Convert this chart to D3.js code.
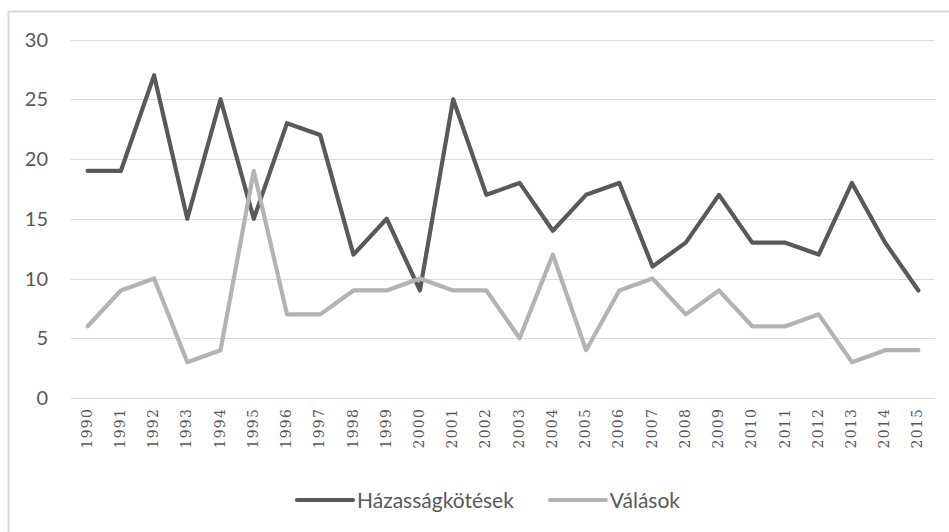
<!DOCTYPE html>
<html>
<head>
<meta charset="utf-8">
<script src="https://cdn.jsdelivr.net/npm/d3@7.9.0/dist/d3.min.js"></script>
<style>
  body { margin: 0; background: #fff; }
  svg { display: block; }
</style>
</head>
<body>
<div id="chart"></div>
<script>
const years = d3.range(1990, 2016).map(String);
const marriages = [19, 19, 27, 15, 25, 15, 23, 22, 12, 15, 9, 25, 17, 18, 14, 17, 18, 11, 13, 17, 13, 13, 12, 18, 13, 9];
const divorces = [6, 9, 10, 3, 4, 19, 7, 7, 9, 9, 10, 9, 9, 5, 12, 4, 9, 10, 7, 9, 6, 6, 7, 3, 4, 4];
const yTicks = [0, 5, 10, 15, 20, 25, 30];
const seriesNames = ['Házasságkötések', 'Válások'];
const seriesColors = ['#595959', '#b3b3b3'];

const width = 949;
const height = 532;
const plot = { left: 71, right: 935, top: 39.5, bottom: 398 };

const svg = d3.select('#chart')
  .append('svg')
  .attr('width', width)
  .attr('height', height);

// chart frame (runs off the right and bottom edge)
svg.append('rect')
  .attr('x', 8.5).attr('y', 11.5)
  .attr('width', 960).attr('height', 560)
  .attr('fill', 'none')
  .attr('stroke', '#d9d9d9')
  .attr('stroke-width', 2);

const x = d3.scaleBand().domain(years).range([plot.left, plot.right]);
const y = d3.scaleLinear().domain([0, 30]).range([plot.bottom, plot.top]);

// gridlines
svg.append('g')
  .selectAll('line')
  .data(yTicks)
  .join('line')
  .attr('x1', plot.left).attr('x2', plot.right)
  .attr('y1', d => Math.round(y(d)) + 0.5)
  .attr('y2', d => Math.round(y(d)) + 0.5)
  .attr('stroke', '#d9d9d9')
  .attr('stroke-width', 1);

// y labels
svg.append('g')
  .selectAll('text')
  .data(yTicks)
  .join('text')
  .attr('x', 48)
  .attr('y', d => y(d))
  .attr('dy', '0.35em')
  .attr('text-anchor', 'end')
  .attr('font-family', 'Lato, sans-serif')
  .attr('font-size', 20)
  .attr('fill', '#595959')
  .text(d => d);

// x labels, rotated
svg.append('g')
  .selectAll('text')
  .data(years)
  .join('text')
  .attr('transform', d => `translate(${x(d) + x.bandwidth() / 2 - 1}, 408) rotate(-90)`)
  .attr('dy', '0.36em')
  .attr('text-anchor', 'end')
  .attr('font-family', '"DejaVu Serif", serif')
  .attr('font-size', 14)
  .attr('letter-spacing', 1.2)
  .attr('fill', '#595959')
  .text(d => d);

// lines
const line = d3.line()
  .x((d, i) => x(years[i]) + x.bandwidth() / 2)
  .y(d => y(d));

[marriages, divorces].forEach((values, i) => {
  svg.append('path')
    .datum(values)
    .attr('d', line)
    .attr('fill', 'none')
    .attr('stroke', seriesColors[i])
    .attr('stroke-width', 4.2)
    .attr('stroke-linejoin', 'round')
    .attr('stroke-linecap', 'round');
});

// legend
const legend = svg.append('g');
let lx = 297;
seriesNames.forEach((name, i) => {
  legend.append('line')
    .attr('x1', lx).attr('x2', lx + 56)
    .attr('y1', 500).attr('y2', 500)
    .attr('stroke', seriesColors[i])
    .attr('stroke-width', 4.2)
    .attr('stroke-linecap', 'round');
  const t = legend.append('text')
    .attr('x', lx + 60)
    .attr('y', 508)
    .attr('font-family', 'Lato, sans-serif')
    .attr('font-size', 21)
    .attr('fill', '#595959')
    .text(name);
  lx += 60 + t.node().getComputedTextLength() + 36;
});
</script>
</body>
</html>
